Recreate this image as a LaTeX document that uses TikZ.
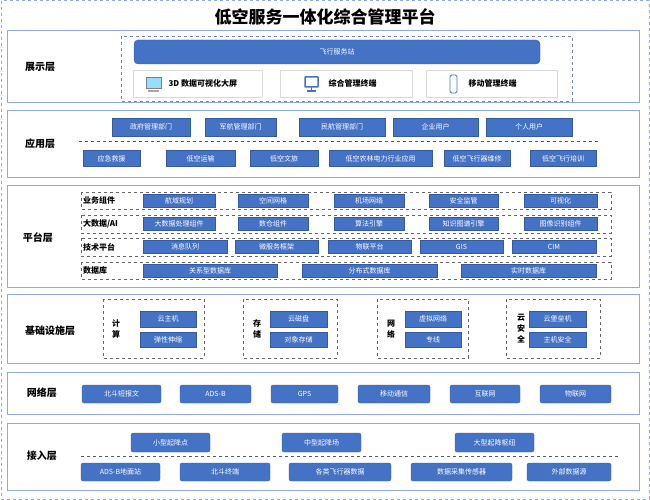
\documentclass[tikz,border=0pt]{standalone}
\usepackage{fontspec}
\setmainfont{Noto Sans CJK SC}
\usetikzlibrary{positioning}
\definecolor{blk}{HTML}{4472C4}
\definecolor{frm}{HTML}{8FAADC}
\tikzset{
  layer/.style={draw=frm,line width=1pt,fill=white},
  lbl/.style={font=\bfseries\fontsize{10}{10}\selectfont,inner sep=0pt},
  box/.style={fill=blk,draw=blk!80!black,line width=0.3pt,text=white,font=\fontsize{7}{7}\selectfont,inner sep=0pt},
  rbox/.style={box,rounded corners=2pt},
  grp/.style={draw=gray!80!black,dashed,line width=0.8pt},
  sep/.style={draw=gray!70!black,dashed,line width=0.8pt}
}
\begin{document}
\begin{tikzpicture}[x=1pt,y=-1pt]
      \useasboundingbox (0,0) rectangle (650,500);%
      \draw[frm,dashed,line width=1pt] (1,1) rectangle (649,499);%
      \node[font=\bfseries\fontsize{17}{17}\selectfont] (T) at (325,17) {低空服务一体化综合管理平台};%

      % display layer
      \draw[layer] (7,31) rectangle (639,103);%
      \node[lbl] (L1) at (40,67) {展示层};%
      \draw[grp,draw=frm!80!black] (121,36) rectangle (572,101);%
      \node[rbox,minimum width=406,minimum height=24,rounded corners=4pt] (FS) at (337,52) {飞行服务站};%
      \foreach \n/\x/\w in {S1/198/129,S2/346/132,S3/492/131}
        \node[draw=gray!30,fill=white,minimum width=\w,minimum height=27,inner sep=0pt] (\n) at (\x,83.5) {};%
      \node[font=\bfseries\fontsize{8}{8}\selectfont,anchor=west] (T1) at (165,83.5) {3D 数据可视化大屏};%
      \node[font=\bfseries\fontsize{8}{8}\selectfont,anchor=west] (T2) at (325,83.5) {综合管理终端};%
      \node[font=\bfseries\fontsize{8}{8}\selectfont,anchor=west] (T3) at (465,83.5) {移动管理终端};%
      \draw[gray,fill=cyan!40] (146,77) rectangle (161,88);%
      \draw[gray!70,line width=1.5pt] (148,91) -- (159,91);%
      \draw[blk,line width=1.5pt,fill=white,rounded corners=0.5pt] (305,77) rectangle (318,87);%
      \draw[blk,line width=1.5pt] (311.5,87) -- (311.5,91) (307,91) -- (316,91);%
      \draw[blk,line width=0.8pt,rounded corners=1.5pt] (450,75) rectangle (457,93);%

      % application layer
      \draw[layer] (7,111) rectangle (639,177);%
      \node[lbl] (L2) at (40,144) {应用层};%
      \foreach \n/\a/\b/\t in {A1/112/190/政府管理部门,A2/205/276/军航管理部门,A3/299/385/民航管理部门,A4/393/478/企业用户,A5/486/572/个人用户}
        \node[box,minimum width=\b-\a,minimum height=18] (\n) at ({(\a+\b)/2},127) {\t};%
      \coordinate (D1) at (79,141);%
      \coordinate (D2) at (598,141);%
      \draw[sep] (D1) -- (D2);%
      \foreach \n/\a/\b/\t in {B1/83/140/应急救援,B2/166/235/低空运输,B3/250/318/低空文旅,B4/329/432/低空农林电力行业应用,B5/444/510/低空飞行器维修,B6/530/596/低空飞行培训}
        \node[box,minimum width=\b-\a,minimum height=16] (\n) at ({(\a+\b)/2},158.5) {\t};%

      % platform layer
      \draw[layer] (7,185) rectangle (639,287);%
      \node[lbl] (L3) at (38,238) {平台层};%
      \foreach \ya/\yb/\t in {192/209/业务组件,215/233/{大数据/AI},238/256/技术平台,262/279/数据库}{
        \draw[grp] (81,\ya) rectangle (611,\yb);%
        \node[font=\bfseries\fontsize{8}{8}\selectfont,anchor=west,inner sep=0pt] at (83,{(\ya+\yb)/2}) {\t};%
      }
      \foreach \n/\a/\b/\t in {C1/143/215/航域规划,C2/238/308/空间网格,C3/334/404/机场网络,C4/429/498/安全监管,C5/524/597/可视化}
        \node[box,minimum width=\b-\a,minimum height=13] (\n) at ({(\a+\b)/2},200.5) {\t};%
      \foreach \n/\a/\b/\t in {E1/143/215/大数据处理组件,E2/238/308/数仓组件,E3/334/404/算法引擎,E4/429/498/知识图谱引擎,E5/524/597/图像识别组件}
        \node[box,minimum width=\b-\a,minimum height=13] (\n) at ({(\a+\b)/2},224) {\t};%
      \foreach \n/\a/\b/\t in {F1/143/227/消息队列,F2/235/318/微服务框架,F3/328/411/物联平台,F4/420/503/GIS,F5/512/596/CIM}
        \node[box,minimum width=\b-\a,minimum height=13] (\n) at ({(\a+\b)/2},247) {\t};%
      \foreach \n/\a/\b/\t in {G1/143/277/关系型数据库,G2/302/437/分布式数据库,G3/461/596/实时数据库}
        \node[box,minimum width=\b-\a,minimum height=13] (\n) at ({(\a+\b)/2},270.5) {\t};%

      % infrastructure layer
      \draw[layer] (7,294) rectangle (639,363);%
      \node[lbl] (L4) at (50,331) {基础设施层};%
      \foreach \n/\ga/\gb/\ba/\bb/\lx/\lt/\t in {H1/103/204/140/196/116/{计\\算}/云主机,H2/243/337/270/327/257/{存\\储}/云磁盘,H3/377/468/405/461/391/{网\\络}/虚拟网络,H4/506/600/529/586/521/{云\\安\\全}/云堡垒机}{
        \draw[grp] (\ga,299) rectangle (\gb,358);%
        \node[box,minimum width=\bb-\ba,minimum height=16] (\n) at ({(\ba+\bb)/2},319) {\t};%
        \node[font=\bfseries\fontsize{8}{11}\selectfont,align=center,inner sep=0pt] at (\lx,329) {\lt};%
      }
      \node[box,minimum width=56,minimum height=15] (K1) at (168,339.5) {弹性伸缩};%
      \node[box,minimum width=57,minimum height=15] (K2) at (298.5,339.5) {对象存储};%
      \node[box,minimum width=56,minimum height=15] (K3) at (433,339.5) {专线};%
      \node[box,minimum width=57,minimum height=15] (K4) at (557.5,339.5) {主机安全};%

      % network layer
      \draw[layer] (7,372) rectangle (639,414);%
      \node[lbl] (L5) at (42,393) {网络层};%
      \foreach \n/\a/\b/\t in {N1/82/161/北斗短报文,N2/180/251/ADS-B,N3/271/338/GPS,N4/358/430/移动通信,N5/450/520/互联网,N6/540/611/物联网}
        \node[rbox,minimum width=\b-\a,minimum height=18] (\n) at ({(\a+\b)/2},394) {\t};%

      % access layer
      \draw[layer] (7,423) rectangle (639,490);%
      \node[lbl] (L6) at (42,456) {接入层};%
      \foreach \n/\a/\b/\t in {P1/131/210/小型起降点,P2/282/361/中型起降场,P3/455/534/大型起降枢纽}
        \node[rbox,minimum width=\b-\a,minimum height=19] (\n) at ({(\a+\b)/2},442.5) {\t};%
      \coordinate (D3) at (81,456);%
      \coordinate (D4) at (620,456);%
      \draw[sep] (D3) -- (D4);%
      \foreach \n/\a/\b/\t in {Q1/81/160/ADS-B地面站,Q2/180/270/北斗终端,Q3/289/391/各类飞行器数据,Q4/411/512/数据采集传感器,Q5/527/611/外部数据源}
        \node[rbox,minimum width=\b-\a,minimum height=18] (\n) at ({(\a+\b)/2},472) {\t};%
\end{tikzpicture}
\end{document}
